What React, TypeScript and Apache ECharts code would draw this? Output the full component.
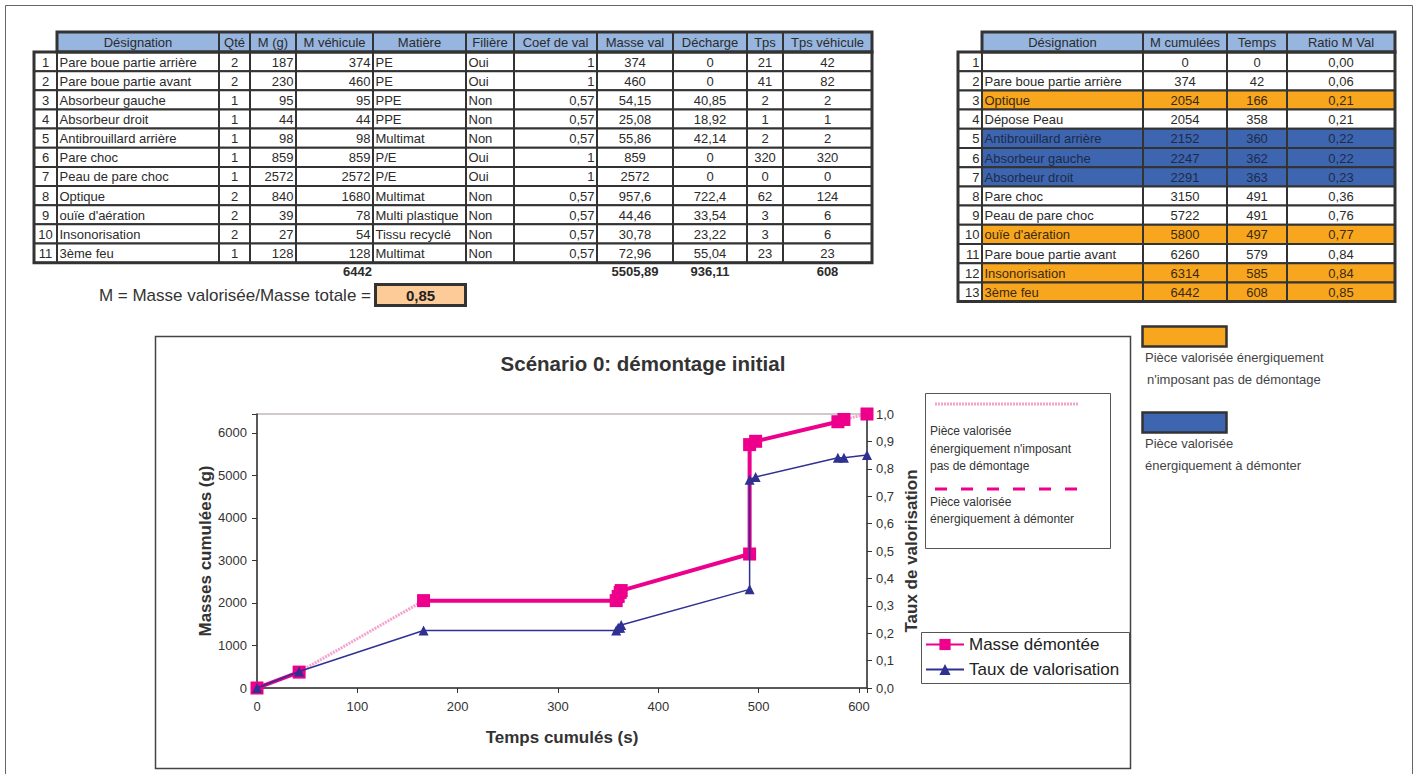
import React, { useEffect, useRef } from 'react';
import * as echarts from 'echarts';

const FONT = '"Liberation Sans", Arial, Helvetica, sans-serif';

// ---------- Left table data ----------
const leftHeaders = ['', 'Désignation', 'Qté', 'M (g)', 'M véhicule', 'Matière', 'Filière', 'Coef de val', 'Masse val', 'Décharge', 'Tps', 'Tps véhicule'];
const designations = ['Pare boue partie arrière', 'Pare boue partie avant', 'Absorbeur gauche', 'Absorbeur droit', 'Antibrouillard arrière', 'Pare choc', 'Peau de pare choc', 'Optique', "ouïe d'aération", 'Insonorisation', '3ème feu'];
const qte = [2, 2, 1, 1, 1, 1, 1, 2, 2, 2, 1];
const masseG = [187, 230, 95, 44, 98, 859, 2572, 840, 39, 27, 128];
const mVehicule = [374, 460, 95, 44, 98, 859, 2572, 1680, 78, 54, 128];
const matiere = ['PE', 'PE', 'PPE', 'PPE', 'Multimat', 'P/E', 'P/E', 'Multimat', 'Multi plastique', 'Tissu recyclé', 'Multimat'];
const filiere = ['Oui', 'Oui', 'Non', 'Non', 'Non', 'Oui', 'Oui', 'Non', 'Non', 'Non', 'Non'];
const coefVal = [1, 1, 0.57, 0.57, 0.57, 1, 1, 0.57, 0.57, 0.57, 0.57];
const masseVal = [374, 460, 54.15, 25.08, 55.86, 859, 2572, 957.6, 44.46, 30.78, 72.96];
const decharge = [0, 0, 40.85, 18.92, 42.14, 0, 0, 722.4, 33.54, 23.22, 55.04];
const tps = [21, 41, 2, 1, 2, 320, 0, 62, 3, 3, 23];
const tpsVehicule = [42, 82, 2, 1, 2, 320, 0, 124, 6, 6, 23];
const totalMVehicule = '6442';
const totalMasseVal = '5505,89';
const totalDecharge = '936,11';
const totalTpsVehicule = '608';
const ratioGlobal = '0,85';

// ---------- Right table data ----------
const rightHeaders = ['', 'Désignation', 'M cumulées', 'Temps', 'Ratio M Val'];
const stepNames = ['', 'Pare boue partie arrière', 'Optique', 'Dépose Peau', 'Antibrouillard arrière', 'Absorbeur gauche', 'Absorbeur droit', 'Pare choc', 'Peau de pare choc', "ouïe d'aération", 'Pare boue partie avant', 'Insonorisation', '3ème feu'];
const mCumulees = [0, 374, 2054, 2054, 2152, 2247, 2291, 3150, 5722, 5800, 6260, 6314, 6442];
const tempsCumules = [0, 42, 166, 358, 360, 362, 363, 491, 491, 497, 579, 585, 608];
const ratioMVal = [0, 0.06, 0.21, 0.21, 0.22, 0.22, 0.23, 0.36, 0.76, 0.77, 0.84, 0.84, 0.85];
// o = valorisée sans démontage (orange), b = à démonter (bleu)
const stepType = ['', '', 'o', '', 'b', 'b', 'b', '', '', 'o', '', 'o', 'o'];

// ---------- Chart texts ----------
const chartTitle = 'Scénario 0: démontage initial';
const xName = 'Temps cumulés (s)';
const yName = 'Masses cumulées (g)';
const y2Name = 'Taux de valorisation';
const serieMasse = 'Masse démontée';
const serieTaux = 'Taux de valorisation';

const PINK = '#EC008C';
const PINK_LIGHT = '#F4A3CF';
const NAVY = '#2E3192';
const ORANGE = '#F8A61E';
const BLUE = '#3D65B0';
const HEAD = '#96B5DF';
const BORDER = '#333';
const TXT = '#2b2b2b';
const CELL_FS = 13;

const fr = (v: number | string) => String(v).replace('.', ',');

function txt(x: number, y: number, s: string, align = 'left', size = CELL_FS, weight = 'normal', color = TXT): any {
  return {
    type: 'text', x, y, silent: true, z: 20,
    style: {
      text: s, fill: color, fontSize: size, fontWeight: weight, fontFamily: FONT,
      align, verticalAlign: 'middle', textAlign: align, textVerticalAlign: 'middle',
    },
  };
}
function box(x: number, y: number, w: number, h: number, fill: string, stroke = BORDER, lw = 2, z = 10): any {
  return { type: 'rect', silent: true, z, shape: { x, y, width: w, height: h }, style: { fill, stroke, lineWidth: lw } };
}

function buildTable(cols: number[], headers: string[], rows: string[][], aligns: string[], fills: string[][], colors: string[], top: number, headH: number, rowH: number) {
  const els: any[] = [];
  const rowsTop = top + headH;
  for (let c = 1; c < headers.length; c++) {
    const x0 = cols[c], x1 = cols[c + 1];
    els.push(box(x0, top, x1 - x0, headH, HEAD));
    els.push(txt((x0 + x1) / 2, top + headH / 2 + 0.5, headers[c], 'center'));
  }
  els.push(box(cols[1], top, cols[cols.length - 1] - cols[1], headH, 'none', BORDER, 3, 11));
  rows.forEach((r, i) => {
    const y0 = rowsTop + rowH * i;
    for (let c = 0; c < r.length; c++) {
      const x0 = cols[c], x1 = cols[c + 1];
      els.push(box(x0, y0, x1 - x0, rowH, fills[i][c]));
      const a = aligns[c];
      const tx = a === 'left' ? x0 + 2.5 : a === 'right' ? x1 - 2.5 : (x0 + x1) / 2;
      els.push(txt(tx, y0 + rowH / 2 + 0.5, r[c], a, CELL_FS, 'normal', c === 0 ? TXT : colors[i]));
    }
  });
  els.push(box(cols[0], rowsTop, cols[cols.length - 1] - cols[0], rowH * rows.length, 'none', BORDER, 3, 11));
  return els;
}

function buildOption() {
  const graphics: any[] = [];
  graphics.push(box(5.5, 5.5, 1407, 800, 'none', '#666', 1, 1));

  // left table
  const LT_COLS = [34, 57, 219, 250, 296, 373, 466, 514, 597, 673, 747, 783, 872];
  const LT_ALIGN = ['center', 'left', 'center', 'right', 'right', 'left', 'left', 'right', 'center', 'center', 'center', 'center'];
  const leftRows = designations.map((d, i) => [
    String(i + 1), d, String(qte[i]), String(masseG[i]), String(mVehicule[i]), matiere[i], filiere[i],
    fr(coefVal[i]), fr(masseVal[i]), fr(decharge[i]), String(tps[i]), String(tpsVehicule[i]),
  ]);
  const leftFills = leftRows.map((r) => r.map(() => '#fff'));
  graphics.push(...buildTable(LT_COLS, leftHeaders, leftRows, LT_ALIGN, leftFills, leftRows.map(() => TXT), 32, 20, 19.15));
  const totY = 271;
  graphics.push(txt(372, totY, totalMVehicule, 'right', CELL_FS, 'bold'));
  graphics.push(txt((597 + 673) / 2, totY, totalMasseVal, 'center', CELL_FS, 'bold'));
  graphics.push(txt((673 + 747) / 2, totY, totalDecharge, 'center', CELL_FS, 'bold'));
  graphics.push(txt((783 + 872) / 2, totY, totalTpsVehicule, 'center', CELL_FS, 'bold'));
  graphics.push(txt(371, 295, 'M = Masse valorisée/Masse totale =', 'right', 17, 'normal', '#333'));
  graphics.push(box(375.5, 284.5, 90, 21, '#FCCB98', BORDER, 3));
  graphics.push(txt(420.5, 295.5, ratioGlobal, 'center', 15, 'bold', '#222'));

  // right table
  const RT_COLS = [958, 982, 1143, 1227, 1287, 1395];
  const RT_ALIGN = ['right', 'left', 'center', 'center', 'center'];
  const rightRows = stepNames.map((n, i) => [String(i + 1), n, String(mCumulees[i]), String(tempsCumules[i]), fr(ratioMVal[i].toFixed(2))]);
  const rightFills = stepType.map((t) => {
    const f = t === 'o' ? ORANGE : t === 'b' ? BLUE : '#fff';
    return ['#fff', f, f, f, f];
  });
  const rightColors = stepType.map((t) => (t === 'b' ? '#1e2b48' : t === 'o' ? '#3a2a10' : TXT));
  graphics.push(...buildTable(RT_COLS, rightHeaders, rightRows, RT_ALIGN, rightFills, rightColors, 32, 20, 19.2));

  // colour key
  graphics.push(box(1142.5, 326.5, 84, 20, ORANGE, BORDER, 2.5));
  graphics.push(txt(1145, 357, 'Pièce valorisée énergiquement', 'left', 13, 'normal', '#444'));
  graphics.push(txt(1147, 379, "n'imposant pas de démontage", 'left', 13, 'normal', '#444'));
  graphics.push(box(1142.5, 412.5, 84, 20, BLUE, BORDER, 2.5));
  graphics.push(txt(1145, 443, 'Pièce valorisée', 'left', 13, 'normal', '#444'));
  graphics.push(txt(1145, 465, 'énergiquement à démonter', 'left', 13, 'normal', '#444'));

  // chart frame + title
  graphics.push(box(155.5, 336.5, 975, 432, 'none', '#444', 1.5, 1));
  graphics.push(txt(643, 363, chartTitle, 'center', 20.5, 'bold', '#333'));

  // line-style key inside chart
  graphics.push(box(925.5, 393.5, 185, 155, '#fff', '#555', 1, 2));
  graphics.push({ type: 'line', silent: true, z: 20, shape: { x1: 935, y1: 404, x2: 1078, y2: 404 }, style: { stroke: PINK_LIGHT, lineWidth: 3, lineDash: [2, 1] } });
  graphics.push(txt(930, 431, 'Pièce valorisée', 'left', 12, 'normal', '#333'));
  graphics.push(txt(930, 449, "énergiquement n'imposant", 'left', 12, 'normal', '#333'));
  graphics.push(txt(930, 466, 'pas de démontage', 'left', 12, 'normal', '#333'));
  graphics.push({ type: 'line', silent: true, z: 20, shape: { x1: 935, y1: 489, x2: 1080, y2: 489 }, style: { stroke: PINK, lineWidth: 3, lineDash: [12, 14] } });
  graphics.push(txt(930, 502, 'Pièce valorisée', 'left', 12, 'normal', '#333'));
  graphics.push(txt(930, 519, 'énergiquement à démonter', 'left', 12, 'normal', '#333'));

  // series legend frame
  graphics.push(box(921.5, 632.5, 208, 51, '#fff', '#555', 1, 2));

  // ---------- series data ----------
  const solid: any[] = [];
  const dotted: any[] = [];
  tempsCumules.forEach((t, i) => {
    if (i > 0 && stepType[i] === 'o') {
      solid.push([t, '-']);
      dotted.push([tempsCumules[i - 1], mCumulees[i - 1]], [t, mCumulees[i]], [t, '-']);
    }
    solid.push([t, mCumulees[i]]);
  });
  const taux = tempsCumules.map((t, i) => [t, ratioMVal[i]]);

  const axisLineStyle = { color: '#333', width: 1.5 };
  const labelStyle = { color: '#333', fontSize: 13, fontFamily: FONT };
  const nameStyle = { color: '#333', fontSize: 17, fontWeight: 'bold', fontFamily: FONT };

  return {
    animation: false,
    backgroundColor: '#fff',
    textStyle: { fontFamily: FONT },
    grid: { left: 257, top: 414, right: 551, bottom: 86, show: true, borderColor: '#a09494', borderWidth: 1, backgroundColor: 'transparent' },
    xAxis: {
      type: 'value', min: 0, max: 608, interval: 100,
      axisLine: { show: true, onZero: false, lineStyle: axisLineStyle },
      axisTick: { show: true, length: 5, lineStyle: { color: '#333' } },
      axisLabel: { ...labelStyle, margin: 12, formatter: (v: number) => (v % 100 === 0 ? String(v) : '') },
      splitLine: { show: false },
      name: xName, nameLocation: 'middle', nameGap: 41, nameTextStyle: nameStyle,
    },
    yAxis: [
      {
        type: 'value', position: 'left', min: 0, max: 6442, interval: 1000,
        axisLine: { show: true, onZero: false, lineStyle: axisLineStyle },
        axisTick: { show: true, length: 5, lineStyle: { color: '#333' } },
        axisLabel: { ...labelStyle, margin: 10, formatter: (v: number) => (v % 1000 === 0 ? String(v) : '') },
        splitLine: { show: false },
        name: yName, nameLocation: 'middle', nameRotate: 90, nameGap: 43, nameTextStyle: nameStyle,
      },
      {
        type: 'value', position: 'right', min: 0, max: 1, interval: 0.1,
        axisLine: { show: true, onZero: false, lineStyle: axisLineStyle },
        axisTick: { show: true, length: 5, lineStyle: { color: '#333' } },
        axisLabel: { ...labelStyle, margin: 9, formatter: (v: number) => fr(v.toFixed(1)) },
        splitLine: { show: false },
        name: y2Name, nameLocation: 'middle', nameRotate: 90, nameGap: 36, nameTextStyle: nameStyle,
      },
    ],
    legend: {
      data: [serieMasse, serieTaux], orient: 'vertical', left: 925, top: 636,
      itemWidth: 38, itemHeight: 14, itemGap: 8, padding: 0, selectedMode: false,
      textStyle: { fontSize: 17, color: '#222', fontFamily: FONT },
    },
    series: [
      {
        name: 'segments', type: 'line', yAxisIndex: 0, data: dotted, symbol: 'none', clip: false, z: 2,
        lineStyle: { color: PINK_LIGHT, width: 3, type: [2, 1] }, connectNulls: false,
      },
      {
        name: serieMasse, type: 'line', yAxisIndex: 0, data: solid, symbol: 'rect', symbolSize: 13, showSymbol: true,
        clip: false, z: 3, connectNulls: false,
        lineStyle: { color: PINK, width: 4 }, itemStyle: { color: PINK },
      },
      {
        name: serieTaux, type: 'line', yAxisIndex: 1, data: taux, symbol: 'triangle', symbolSize: 10, showSymbol: true,
        clip: false, z: 4,
        lineStyle: { color: NAVY, width: 1.5 }, itemStyle: { color: NAVY },
      },
    ],
    graphic: { elements: graphics },
  };
}

export default function App() {
  const ref = useRef<HTMLDivElement>(null);
  useEffect(() => {
    if (!ref.current) return;
    const chart = echarts.init(ref.current, null, { renderer: 'svg', width: 1418, height: 774 });
    chart.setOption(buildOption() as any);
    return () => chart.dispose();
  }, []);
  return <div ref={ref} style={{ position: 'absolute', left: 0, top: 0, width: 1418, height: 774, background: '#fff' }} />;
}
